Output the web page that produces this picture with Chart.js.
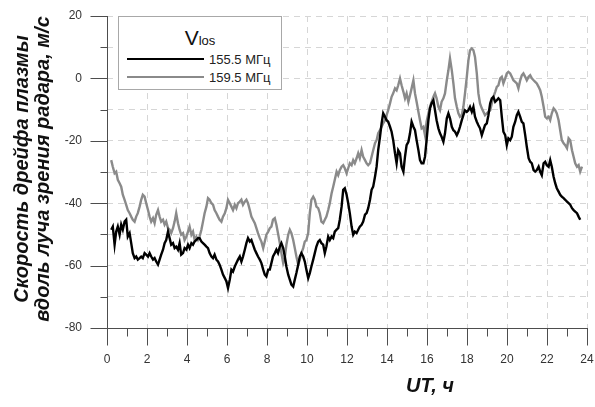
<!DOCTYPE html>
<html><head><meta charset="utf-8">
<script src="https://cdn.jsdelivr.net/npm/chart.js@4.4.1/dist/chart.umd.min.js"></script>
<style>
html,body{margin:0;padding:0;background:#fff;}
#wrap{position:relative;width:595px;height:407px;overflow:hidden;font-family:"Liberation Sans",Arial,sans-serif;}
#c{position:absolute;left:0;top:0;}
.ytitle{position:absolute;left:32px;top:169px;width:360px;transform:translate(-50%,-50%) rotate(-90deg);text-align:center;font-weight:bold;font-style:italic;font-size:20px;line-height:21px;color:#111;white-space:nowrap;}
.xtitle{position:absolute;left:430px;top:385px;transform:translate(-50%,-50%);font-weight:bold;font-style:italic;font-size:20px;line-height:22px;color:#111;white-space:nowrap;}
#legend{position:absolute;left:118px;top:16px;width:162px;height:72px;border:1px solid #a8a8a8;background:#fff;}
#legend .t{position:absolute;left:0;top:10px;width:100%;text-align:center;font-size:21px;line-height:22px;color:#111;}
#legend .t span{font-size:13px;}
#legend .s{position:absolute;left:8px;width:77px;height:2px;}
#legend .l{position:absolute;left:90px;font-size:13px;line-height:16px;color:#222;white-space:nowrap;}
</style>
</head><body>
<div id="wrap">
<canvas id="c" width="595" height="407"></canvas>
<div class="ytitle">Скорость дрейфа плазмы<br>вдоль луча зрения радара, м/с</div>
<div class="xtitle">UT, ч</div>
<div id="legend">
  <div class="t">V<span>los</span></div>
  <div class="s" id="s1" style="top:41px;background:#000;"></div>
  <div class="l" id="l1" style="top:35px;"></div>
  <div class="s" id="s2" style="top:59px;background:#8a8a8a;"></div>
  <div class="l" id="l2" style="top:53px;"></div>
</div>
</div>
<script>
// Series names
const seriesNames = ['155.5 МГц', '159.5 МГц'];
// Time, UT hours
const hours = [
0.21,0.29,0.38,0.46,0.54,0.63,0.71,0.79,0.88,0.96,
1.04,1.13,1.21,1.29,1.38,1.46,1.54,1.63,1.71,1.79,
1.88,1.96,2.05,2.13,2.21,2.30,2.38,2.46,2.55,2.63,
2.71,2.80,2.88,2.96,3.05,3.13,3.21,3.30,3.38,3.46,
3.55,3.63,3.71,3.80,3.88,3.97,4.05,4.13,4.22,4.30,
4.38,4.47,4.55,4.63,4.72,4.80,4.88,4.97,5.05,5.13,
5.22,5.30,5.38,5.47,5.55,5.63,5.72,5.80,5.89,5.97,
6.05,6.14,6.22,6.30,6.39,6.47,6.55,6.64,6.72,6.80,
6.89,6.97,7.05,7.14,7.22,7.30,7.39,7.47,7.55,7.64,
7.72,7.81,7.89,7.97,8.06,
8.14,8.22,8.30,8.39,8.47,8.55,8.64,8.72,8.81,8.89,
8.97,9.06,9.14,9.22,9.31,9.39,9.47,9.56,9.64,9.72,
9.81,9.89,9.97,10.06,10.14,10.22,10.31,10.39,10.47,10.56,
10.64,10.72,10.81,10.89,10.97,11.06,11.14,11.23,11.31,11.39,
11.48,11.56,11.64,11.73,11.81,11.89,11.98,12.06,12.14,12.23,
12.31,12.39,12.48,12.56,12.64,12.73,12.81,12.90,12.98,13.06,
13.15,13.23,13.31,13.40,13.48,13.56,13.65,13.73,13.81,13.90,
13.98,14.06,14.15,14.23,14.31,14.40,14.48,14.56,14.65,14.73,
14.82,14.90,14.98,15.07,15.15,15.23,15.32,15.40,15.48,15.57,
15.65,15.73,15.82,15.90,
15.98,16.07,16.15,16.23,16.32,16.40,16.48,16.57,16.65,16.73,
16.82,16.90,16.99,17.07,17.15,17.24,17.32,17.40,17.49,17.57,
17.65,17.74,17.82,17.90,17.99,18.07,18.15,18.24,18.32,18.40,
18.49,18.57,18.65,18.74,18.82,18.90,18.99,19.07,19.16,19.24,
19.32,19.41,19.49,19.57,19.66,19.74,19.82,19.91,19.99,20.07,
20.16,20.24,20.32,20.41,20.49,20.57,20.66,20.74,20.82,20.91,
20.99,21.08,21.16,21.24,21.33,21.41,21.49,21.58,21.66,21.74,
21.83,21.91,21.99,22.08,22.16,22.24,22.33,22.41,22.49,22.58,
22.66,22.74,22.83,22.91,23.00,23.08,23.16,23.25,23.33,23.41,
23.50,23.58,23.66,23.75
];
// Drift velocity, m/s, 155.5 MHz (black)
const v155 = [
-48.5,-47.5,-53.3,-49.1,-47.5,-50.1,-46.9,-48.5,-45.9,-45.3,
-50.7,-49.6,-52.8,-56.0,-57.6,-57.1,-58.1,-57.6,-57.1,-57.6,
-56.0,-56.5,-57.1,-56.0,-57.1,-58.1,-57.6,-58.7,-59.7,-58.1,
-56.5,-54.9,-52.8,-51.8,-49.1,-51.2,-53.3,-52.8,-54.4,-53.9,
-54.9,-52.8,-56.5,-56.0,-54.4,-54.9,-53.3,-54.4,-52.8,-53.3,
-52.3,-51.8,-51.2,-51.2,-52.3,-52.8,-53.3,-53.9,-54.4,-56.0,
-57.1,-57.6,-56.5,-58.1,-58.7,-59.7,-61.3,-62.9,-64.0,-65.1,
-67.2,-64.5,-61.3,-61.9,-60.3,-59.2,-58.1,-57.1,-58.7,-57.1,
-54.9,-52.8,-51.2,-52.3,-51.8,-53.3,-54.9,-56.0,-57.1,-58.1,
-59.2,-61.3,-62.9,-63.5,-61.3,
-61.3,-59.2,-57.1,-56.0,-54.9,-56.0,-53.9,-52.8,-54.4,-57.1,
-60.3,-62.9,-64.5,-66.1,-66.7,-64.5,-62.4,-59.7,-57.1,-56.0,
-57.1,-58.7,-61.3,-64.0,-62.4,-60.3,-58.1,-56.0,-53.9,-52.3,
-51.8,-52.8,-53.3,-56.0,-53.9,-50.7,-51.8,-50.7,-51.2,-49.1,
-48.5,-48.0,-45.3,-41.1,-35.7,-35.2,-37.3,-40.0,-43.2,-47.5,
-50.1,-49.1,-49.6,-48.5,-47.5,-46.9,-45.9,-43.7,-43.2,-41.6,
-38.9,-35.7,-34.7,-31.5,-28.3,-23.0,-18.7,-14.4,-11.2,-12.3,
-13.4,-13.9,-15.5,-17.1,-19.8,-24.0,-27.2,-23.0,-24.0,-28.3,
-29.9,-25.1,-21.4,-20.3,-17.6,-13.9,-15.5,-16.6,-19.8,-23.0,
-26.2,-27.2,-27.2,-25.1,
-19.8,-13.4,-9.6,-8.0,-7.0,-10.2,-13.4,-16.0,-17.6,-18.7,
-20.3,-17.6,-12.8,-11.2,-12.8,-15.5,-16.6,-17.1,-18.2,-17.1,
-15.5,-13.4,-11.8,-10.2,-10.7,-10.2,-9.1,-10.7,-9.1,-12.3,
-13.9,-15.0,-16.0,-18.2,-16.6,-15.0,-14.4,-11.8,-8.0,-6.4,
-5.9,-7.5,-7.0,-6.4,-7.0,-12.3,-17.1,-18.2,-21.4,-19.2,
-19.8,-18.7,-15.5,-13.9,-11.8,-10.7,-12.3,-13.9,-14.4,-18.2,
-21.9,-25.6,-26.7,-27.2,-29.4,-29.9,-29.4,-28.3,-29.9,-31.0,
-27.2,-26.7,-27.8,-28.3,-26.2,-28.3,-31.5,-33.6,-35.2,-36.3,
-37.3,-37.9,-38.4,-38.9,-39.5,-40.0,-40.5,-41.6,-42.2,-42.7,
-43.2,-44.3,-45.3,null
];
// Drift velocity, m/s, 159.5 MHz (grey)
const v159 = [
-26.2,-28.3,-30.4,-29.9,-32.5,-33.6,-34.7,-37.3,-38.9,-40.5,
-42.2,-43.2,-44.3,-45.3,-45.9,-44.3,-43.2,-41.1,-38.9,-37.3,
-37.9,-40.0,-42.2,-44.3,-45.9,-44.8,-46.4,-43.7,-42.2,-44.3,
-45.9,-45.3,-46.9,-45.9,-48.0,-48.5,-49.6,-48.0,-45.9,-43.2,
-46.4,-48.5,-50.1,-49.6,-51.8,-50.7,-49.1,-47.5,-50.1,-49.1,
-51.8,-50.7,-51.8,-50.7,-48.5,-45.9,-43.2,-41.1,-38.4,-38.9,
-40.0,-40.5,-42.2,-43.2,-44.3,-45.3,-45.9,-44.3,-43.2,-41.6,
-38.9,-40.0,-41.1,-42.2,-40.5,-41.6,-40.0,-39.5,-38.9,-40.5,
-39.5,-38.9,-40.0,-42.2,-44.3,-45.3,-46.4,-48.0,-49.6,-51.2,
-52.3,-54.4,-52.3,-50.1,-49.1,
-48.0,-47.5,-45.3,-44.8,-46.9,-49.6,-52.8,-56.0,-59.2,-57.6,
-53.3,-50.1,-48.5,-49.6,-51.8,-54.4,-57.1,-59.7,-58.1,-56.0,
-54.4,-52.3,-51.8,-49.6,-43.2,-38.9,-37.9,-38.9,-41.1,-41.6,
-43.2,-45.9,-46.4,-45.3,-44.3,-42.2,-40.0,-36.8,-34.7,-32.5,
-29.9,-31.0,-29.4,-28.3,-27.8,-28.8,-30.4,-28.8,-27.2,-27.8,
-26.2,-27.2,-25.6,-24.0,-25.6,-23.0,-25.1,-26.2,-27.2,-27.8,
-27.2,-25.1,-23.0,-20.8,-19.8,-17.6,-16.6,-15.5,-14.4,-13.4,
-11.8,-10.2,-8.0,-5.9,-4.8,-3.2,-3.8,-2.2,0.0,-2.2,
-4.3,-6.4,-4.8,-7.5,-5.4,-3.2,-0.6,-4.8,-7.5,-10.7,
-13.4,-16.0,-15.5,-18.2,
-13.9,-11.2,-9.1,-7.5,-5.9,-4.8,-6.4,-9.1,-10.2,-7.5,
-6.4,-4.8,-0.6,2.6,6.4,2.6,-1.6,-6.4,-9.1,-11.2,
-12.3,-11.8,-9.1,-4.8,0.5,5.8,9.0,9.6,9.0,6.9,
1.6,-4.8,-8.0,-9.6,-10.7,-11.8,-11.2,-10.7,-10.2,-8.0,
-5.9,-4.3,-2.7,-2.2,0.0,0.5,-1.6,0.0,1.6,2.1,
1.6,0.5,-0.6,-1.1,-1.6,-3.2,-0.6,1.0,1.6,0.5,
-0.6,0.5,1.0,0.0,-0.6,-1.1,-1.6,-2.7,-3.8,-5.9,
-9.1,-12.3,-12.8,-12.3,-13.4,-11.2,-9.6,-10.2,-11.2,-13.4,
-16.6,-19.8,-20.8,-21.4,-22.4,-19.2,-19.8,-23.0,-25.1,-27.2,
-28.3,-27.8,-29.9,-28.3
];
// Axis ranges and tick steps
const xRange = [0, 24];
const yRange = [-80, 20];
const xMinorStep = 1, xLabelStep = 2;
const yMinorStep = 10, yLabelStep = 20;

document.getElementById('l1').textContent = seriesNames[0];
document.getElementById('l2').textContent = seriesNames[1];

const toPts = arr => hours.map((h, i) => ({x: h, y: arr[i]}));
const axisColor = '#4d4d4d';
const gridColor = '#d6d6d6';
const tickFont = {family: '"Liberation Sans", Arial, sans-serif', size: 12};

// Axis lines with long (labelled) and short (minor) tick marks, placed through the chart's scales
const axesPlugin = {
  id: 'axesTicks',
  afterDraw(chart) {
    const {ctx, chartArea: a} = chart;
    const x = chart.scales.x, y = chart.scales.y;
    const L = Math.round(a.left) + 0.5, B = Math.round(a.bottom) + 0.5;
    ctx.save();
    ctx.strokeStyle = axisColor; ctx.lineWidth = 1; ctx.setLineDash([]);
    ctx.beginPath();
    ctx.moveTo(L, Math.round(a.top)); ctx.lineTo(L, B);
    ctx.moveTo(L, B); ctx.lineTo(Math.round(a.right) + 1, B);
    for (let v = xRange[0]; v <= xRange[1]; v += xMinorStep) {
      const px = Math.round(x.getPixelForValue(v)) + 0.5;
      const len = v % xLabelStep === 0 ? 17 : 8;
      ctx.moveTo(px, B); ctx.lineTo(px, B + len);
    }
    for (let v = yRange[0]; v <= yRange[1]; v += yMinorStep) {
      const py = Math.round(y.getPixelForValue(v)) + 0.5;
      const len = v % yLabelStep === 0 ? 17 : 7;
      ctx.moveTo(L, py); ctx.lineTo(L - len, py);
    }
    ctx.stroke();
    ctx.restore();
  }
};

new Chart(document.getElementById('c'), {
  type: 'line',
  data: {
    datasets: [
      {label: seriesNames[0], data: toPts(v155), borderColor: '#000', borderWidth: 2.4, pointRadius: 0, tension: 0, spanGaps: false},
      {label: seriesNames[1], data: toPts(v159), borderColor: '#8a8a8a', borderWidth: 2.4, pointRadius: 0, tension: 0, spanGaps: false}
    ]
  },
  plugins: [axesPlugin],
  options: {
    responsive: false,
    animation: false,
    devicePixelRatio: 1,
    layout: {padding: {left: 0, right: 8, top: 16, bottom: 0}},
    plugins: {legend: {display: false}, tooltip: {enabled: false}, title: {display: false}},
    scales: {
      x: {
        type: 'linear', position: 'bottom', min: xRange[0], max: xRange[1],
        ticks: {stepSize: xMinorStep, autoSkip: false, maxRotation: 0, color: '#333', font: tickFont, padding: 0,
          callback: v => (v % xLabelStep === 0 ? String(v) : '')},
        grid: {
          color: ctx => (ctx.tick && ctx.tick.value % xLabelStep === 0 && ctx.tick.value !== xRange[0]) ? gridColor : 'rgba(0,0,0,0)',
          lineWidth: 1, tickLength: 24, tickColor: 'rgba(0,0,0,0)'
        },
        border: {display: false, dash: [6, 5]},
        afterFit: s => { s.height = 79; }
      },
      y: {
        type: 'linear', position: 'left', min: yRange[0], max: yRange[1],
        ticks: {stepSize: yMinorStep, autoSkip: false, color: '#333', font: tickFont, padding: 0,
          callback: v => (v % yLabelStep === 0 ? String(v) : '')},
        grid: {
          color: ctx => (ctx.tick && ctx.tick.value !== yRange[0]) ? gridColor : 'rgba(0,0,0,0)',
          lineWidth: 1, tickLength: 25, tickColor: 'rgba(0,0,0,0)'
        },
        border: {display: false, dash: [6, 5]},
        afterFit: s => { s.width = 107; }
      }
    }
  }
});
</script>
</body></html>
